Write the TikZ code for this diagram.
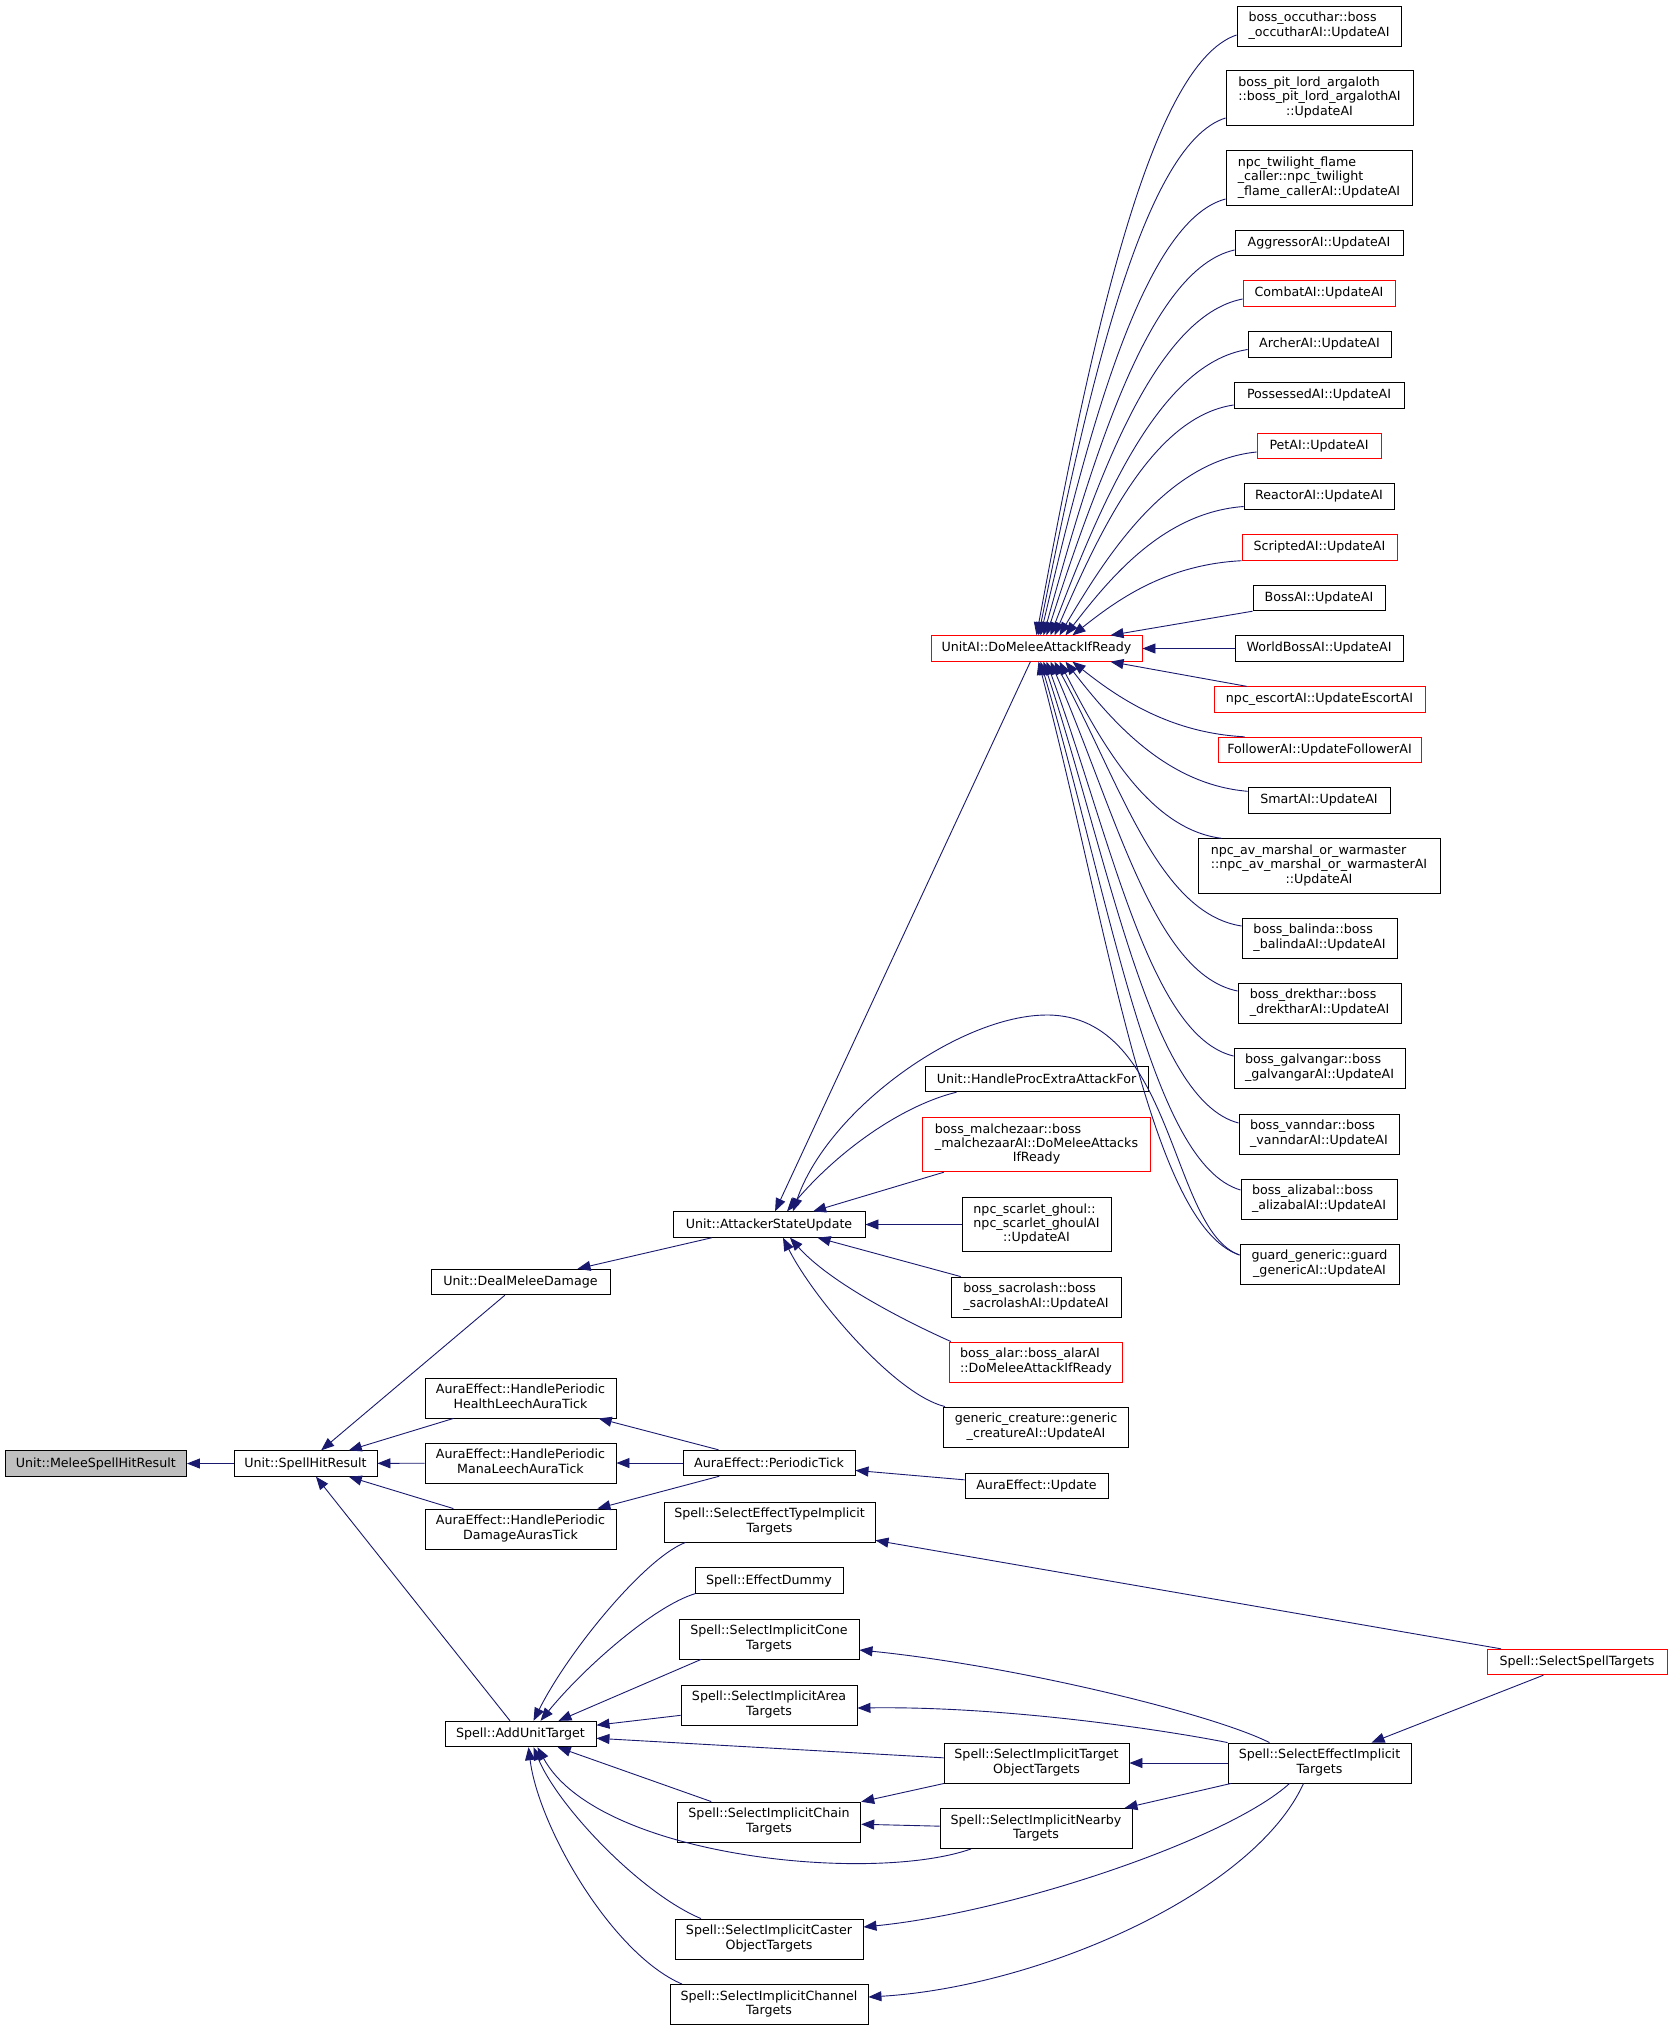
\documentclass[tikz,border=0pt]{standalone}
\usepackage{fontspec}
\setmainfont{DejaVu Sans}
\usetikzlibrary{arrows.meta}
\definecolor{edgeblue}{HTML}{191970}
\def\twol#1#2{\begin{tabular}{@{}l@{}}#1\\\multicolumn{1}{@{}c@{}}{#2}\end{tabular}}
\def\threel#1#2#3{\begin{tabular}{@{}l@{}}#1\\#2\\\multicolumn{1}{@{}c@{}}{#3}\end{tabular}}
\tikzset{
  fnode/.style={draw=black, line width=0.9pt, fill=white, inner xsep=2pt, inner ysep=0pt, font=\fontsize{12.65}{14.3}\selectfont},
  trunc/.style={fnode, draw=red},
  h1/.style={minimum height=25.5pt},
  h2/.style={minimum height=40pt},
  h3/.style={minimum height=54.5pt},
  callarrow/.style={draw=edgeblue, line width=0.9pt, -{Triangle[length=13pt,width=10pt]}},
}

\begin{document}
\begin{tikzpicture}[x=1pt,y=-1pt]
	%%%%% START %%%%%
	\fill[white, use as bounding box] (0,0) rectangle (1672,2031);

	% left part
	\node[fnode, h1, minimum width=181.5pt, fill=black!25] (mel) at (95.75,1463.5) {Unit::MeleeSpellHitResult};
	\node[fnode, h1, minimum width=143pt] (shr) at (305.5,1463.5) {Unit::SpellHitResult};
	\node[fnode, h1, minimum width=179pt] (dmd) at (520.5,1282) {Unit::DealMeleeDamage};
	\node[fnode, h2, minimum width=191pt] (hle) at (520.5,1398) {\twol{AuraEffect::HandlePeriodic}{HealthLeechAuraTick}};
	\node[fnode, h2, minimum width=191pt] (mle) at (520.5,1463) {\twol{AuraEffect::HandlePeriodic}{ManaLeechAuraTick}};
	\node[fnode, h2, minimum width=191pt] (dmg) at (520.5,1529) {\twol{AuraEffect::HandlePeriodic}{DamageAurasTick}};
	\node[fnode, h1, minimum width=151pt] (aut) at (520.5,1734) {Spell::AddUnitTarget};

	% middle column
	\node[fnode, h1, minimum width=192pt] (ast) at (769,1224.5) {Unit::AttackerStateUpdate};
	\node[fnode, h1, minimum width=172pt] (pti) at (769,1463) {AuraEffect::PeriodicTick};
	\node[fnode, h2, minimum width=211pt] (eti) at (769.5,1522) {\twol{Spell::SelectEffectTypeImplicit}{Targets}};
	\node[fnode, h1, minimum width=148pt] (edu) at (769,1580.5) {Spell::EffectDummy};
	\node[fnode, h2, minimum width=180pt] (con) at (769,1639) {\twol{Spell::SelectImplicitCone}{Targets}};
	\node[fnode, h2, minimum width=176pt] (are) at (769,1705) {\twol{Spell::SelectImplicitArea}{Targets}};
	\node[fnode, h2, minimum width=183.5pt] (cha) at (769,1822) {\twol{Spell::SelectImplicitChain}{Targets}};
	\node[fnode, h2, minimum width=188pt] (cas) at (769,1939) {\twol{Spell::SelectImplicitCaster}{ObjectTargets}};
	\node[fnode, h2, minimum width=198pt] (chn) at (769,2004.5) {\twol{Spell::SelectImplicitChannel}{Targets}};

	\node[trunc, h1, minimum width=211pt] (uai) at (1036.5,648.5) {UnitAI::DoMeleeAttackIfReady};
	\node[fnode, h1, minimum width=223pt] (hpe) at (1036.5,1079) {Unit::HandleProcExtraAttackFor};
	\node[trunc, h3, minimum width=228.5pt] (mal) at (1036.5,1144.5) {\threel{boss\_malchezaar::boss}{\_malchezaarAI::DoMeleeAttacks}{IfReady}};
	\node[fnode, h3, minimum width=149pt] (gho) at (1036.5,1224.5) {\threel{npc\_scarlet\_ghoul::}{npc\_scarlet\_ghoulAI}{::UpdateAI}};
	\node[fnode, h2, minimum width=170pt] (sac) at (1036,1297) {\twol{boss\_sacrolash::boss}{\_sacrolashAI::UpdateAI}};
	\node[trunc, h2, minimum width=172.5pt] (ala) at (1036,1362) {\twol{boss\_alar::boss\_alarAI}{::DoMeleeAttackIfReady}};
	\node[fnode, h2, minimum width=185.5pt] (gen) at (1036,1427) {\twol{generic\_creature::generic}{\_creatureAI::UpdateAI}};
	\node[fnode, h1, minimum width=143pt] (upd) at (1036.5,1486) {AuraEffect::Update};
	\node[fnode, h2, minimum width=185pt] (tob) at (1036.5,1763) {\twol{Spell::SelectImplicitTarget}{ObjectTargets}};
	\node[fnode, h2, minimum width=192pt] (nea) at (1036,1828.5) {\twol{Spell::SelectImplicitNearby}{Targets}};

	\node[fnode, h2, minimum width=183pt] (sei) at (1319.5,1763) {\twol{Spell::SelectEffectImplicit}{Targets}};
	\node[trunc, h1, minimum width=180pt] (sst) at (1577,1662) {Spell::SelectSpellTargets};

	% right column
	\node[fnode, h2, minimum width=164pt] (occ) at (1319,26) {\twol{boss\_occuthar::boss}{\_occutharAI::UpdateAI}};
	\node[fnode, h3, minimum width=187pt] (pit) at (1319.5,98) {\threel{boss\_pit\_lord\_argaloth}{::boss\_pit\_lord\_argalothAI}{::UpdateAI}};
	\node[fnode, h3, minimum width=186pt] (twi) at (1319,178) {\threel{npc\_twilight\_flame}{\_caller::npc\_twilight}{\_flame\_callerAI::UpdateAI}};
	\node[fnode, h1, minimum width=168pt] (agg) at (1319,243) {AggressorAI::UpdateAI};
	\node[trunc, h1, minimum width=152pt] (com) at (1319,293.5) {CombatAI::UpdateAI};
	\node[fnode, h1, minimum width=143pt] (arc) at (1319.5,344.5) {ArcherAI::UpdateAI};
	\node[fnode, h1, minimum width=170pt] (pos) at (1319,395.5) {PossessedAI::UpdateAI};
	\node[trunc, h1, minimum width=124pt] (pet) at (1319,446) {PetAI::UpdateAI};
	\node[fnode, h1, minimum width=150pt] (rea) at (1319,496.5) {ReactorAI::UpdateAI};
	\node[trunc, h1, minimum width=155pt] (scr) at (1319.5,547.5) {ScriptedAI::UpdateAI};
	\node[fnode, h1, minimum width=132pt] (bos) at (1319,598) {BossAI::UpdateAI};
	\node[fnode, h1, minimum width=168pt] (wbo) at (1319,648.5) {WorldBossAI::UpdateAI};
	\node[trunc, h1, minimum width=211pt] (esc) at (1319.5,699.5) {npc\_escortAI::UpdateEscortAI};
	\node[trunc, h1, minimum width=203pt] (fol) at (1319.5,750) {FollowerAI::UpdateFollowerAI};
	\node[fnode, h1, minimum width=142pt] (sma) at (1319,800.5) {SmartAI::UpdateAI};
	\node[fnode, h3, minimum width=242pt] (mar) at (1319,866) {\threel{npc\_av\_marshal\_or\_warmaster}{::npc\_av\_marshal\_or\_warmasterAI}{::UpdateAI}};
	\node[fnode, h2, minimum width=155pt] (bal) at (1319.5,938) {\twol{boss\_balinda::boss}{\_balindaAI::UpdateAI}};
	\node[fnode, h2, minimum width=163pt] (dre) at (1319.5,1003) {\twol{boss\_drekthar::boss}{\_drektharAI::UpdateAI}};
	\node[fnode, h2, minimum width=171pt] (gal) at (1319.5,1068) {\twol{boss\_galvangar::boss}{\_galvangarAI::UpdateAI}};
	\node[fnode, h2, minimum width=160pt] (van) at (1319,1134) {\twol{boss\_vanndar::boss}{\_vanndarAI::UpdateAI}};
	\node[fnode, h2, minimum width=156pt] (ali) at (1319,1199) {\twol{boss\_alizabal::boss}{\_alizabalAI::UpdateAI}};
	\node[fnode, h2, minimum width=159pt] (gua) at (1319.5,1264) {\twol{guard\_generic::guard}{\_genericAI::UpdateAI}};

	% calls into SpellHitResult
	\draw[callarrow] (shr) -- (mel);
	\draw[callarrow] (dmd) -- (shr);
	\draw[callarrow] (hle) -- (shr);
	\draw[callarrow] (mle) -- (shr);
	\draw[callarrow] (dmg) -- (shr);
	\draw[callarrow] (aut) -- (shr);
	\draw[callarrow] (ast) -- (dmd);
	\draw[callarrow] (pti) -- (hle);
	\draw[callarrow] (pti) -- (mle);
	\draw[callarrow] (pti) -- (dmg);
	\draw[callarrow] (upd) -- (pti);

	% calls into AttackerStateUpdate
	\draw[callarrow] (uai) -- (ast);
	\draw[callarrow] ([xshift=-80pt]hpe.south) .. controls +(-50,12) and +(55,-65) .. ([xshift=18pt]ast.north);
	\draw[callarrow] (mal) -- (ast);
	\draw[callarrow] (gho) -- (ast);
	\draw[callarrow] (sac) -- (ast);
	\draw[callarrow] ([xshift=-85pt]ala.north) .. controls +(-45,-20) and +(40,45) .. ([xshift=21pt]ast.south);
	\draw[callarrow] ([xshift=-91pt]gen.north) .. controls +(-50,-12) and +(30,60) .. ([xshift=14pt]ast.south);
	\draw[callarrow] ([yshift=9pt]gua.west) .. controls +(-70,-25) and +(128,0) .. (1047,1015) .. controls +(-87,0) and +(35,-102) .. ([xshift=24pt]ast.north);

	% calls into DoMeleeAttackIfReady
	\draw[callarrow] ([yshift=-9pt]occ.west) .. controls +(-90,30) and +(50,-270) .. (uai.north);
	\draw[callarrow] ([yshift=-20pt]pit.west) .. controls +(-84,26) and +(47,-233) .. ([xshift=2pt]uai.north);
	\draw[callarrow] ([yshift=-21pt]twi.west) .. controls +(-83,22) and +(46,-197) .. ([xshift=4pt]uai.north);
	\draw[callarrow] ([yshift=-7pt]agg.west) .. controls +(-86,19) and +(48,-174) .. ([xshift=7pt]uai.north);
	\draw[callarrow] ([yshift=-5.5pt]com.west) .. controls +(-88,17) and +(49,-152) .. ([xshift=10pt]uai.north);
	\draw[callarrow] ([yshift=-5pt]arc.west) .. controls +(-89,14) and +(49,-129) .. ([xshift=14pt]uai.north);
	\draw[callarrow] ([yshift=-9.5pt]pos.west) .. controls +(-81,12) and +(45,-104) .. ([xshift=18pt]uai.north);
	\draw[callarrow] ([yshift=-6pt]pet.west) .. controls +(-89,9) and +(49,-83) .. ([xshift=23pt]uai.north);
	\draw[callarrow] ([yshift=-10pt]rea.west) .. controls +(-80,6) and +(45,-58) .. ([xshift=29pt]uai.north);
	\draw[callarrow] (scr.south west) .. controls +(-77,4) and +(43,-34) .. ([xshift=36pt]uai.north);
	\draw[callarrow] (bos.south west) -- ([xshift=74pt]uai.north);
	\draw[callarrow] (wbo) -- (uai);
	\draw[callarrow] ([xshift=33pt]esc.north west) -- ([xshift=74pt]uai.south);
	\draw[callarrow] ([xshift=27pt]fol.north west) .. controls +(-77,-4) and +(43,34) .. ([xshift=36pt]uai.south);
	\draw[callarrow] ([yshift=-4pt]sma.north west) .. controls +(-82,-7) and +(46,59) .. ([xshift=29pt]uai.south);
	\draw[callarrow] ([xshift=24pt]mar.north west) .. controls +(-73,-9) and +(41,80) .. ([xshift=23pt]uai.south);
	\draw[callarrow] ([yshift=12pt]bal.west) .. controls +(-84,-13) and +(65,119) .. ([xshift=18pt]uai.south);
	\draw[callarrow] ([yshift=12pt]dre.west) .. controls +(-84,-17) and +(65,149) .. ([xshift=14pt]uai.south);
	\draw[callarrow] ([yshift=12pt]gal.west) .. controls +(-84,-20) and +(65,178) .. ([xshift=10pt]uai.south);
	\draw[callarrow] ([yshift=11pt]van.west) .. controls +(-88,-23) and +(68,208) .. ([xshift=7pt]uai.south);
	\draw[callarrow] ([yshift=9pt]ali.west) .. controls +(-90,-26) and +(70,238) .. ([xshift=4pt]uai.south);
	\draw[callarrow] ([yshift=9pt]gua.west) .. controls +(-90,-30) and +(70,267) .. ([xshift=2pt]uai.south);

	% calls into AddUnitTarget
	\draw[callarrow] ([xshift=-84pt]eti.south) .. controls +(-40,15) and +(35,-70) .. ([xshift=13pt]aut.north);
	\draw[callarrow] ([xshift=-74pt]edu.south) .. controls +(-40,12) and +(45,-55) .. ([xshift=20pt]aut.north);
	\draw[callarrow] ([xshift=-68pt]con.south) -- ([xshift=38pt]aut.north);
	\draw[callarrow] (are) -- (aut);
	\draw[callarrow] (tob) -- (aut);
	\draw[callarrow] (cha) -- (aut);
	\draw[callarrow] ([xshift=-65pt]nea.south) .. controls +(-100,35) and +(60,110) .. ([xshift=17pt]aut.south);
	\draw[callarrow] ([xshift=-68pt]cas.north) .. controls +(-60,-25) and +(25,60) .. ([xshift=13pt]aut.south);
	\draw[callarrow] ([xshift=-87pt]chn.north) .. controls +(-70,-30) and +(10,80) .. ([xshift=8pt]aut.south);

	\draw[callarrow] (tob) -- (cha);
	\draw[callarrow] (nea) -- (cha);

	% calls from SelectEffectImplicitTargets
	\draw[callarrow] ([xshift=-50pt]sei.north) .. controls +(-60,-30) and +(150,15) .. ([yshift=-11pt]con.east);
	\draw[callarrow] (sei.north west) .. controls +(-60,-12) and +(150,-2) .. ([yshift=-3pt]are.east);
	\draw[callarrow] (sei) -- (tob);
	\draw[callarrow] (sei) -- (nea);
	\draw[callarrow] ([xshift=-30pt]sei.south) .. controls +(-60,55) and +(150,-15) .. ([yshift=12pt]cas.east);
	\draw[callarrow] ([xshift=-16pt]sei.south) .. controls +(-50,110) and +(170,-10) .. ([yshift=7.5pt]chn.east);

	\draw[callarrow] (sst) -- (eti);
	\draw[callarrow] (sst) -- (sei);
	%%%%% END %%%%%
\end{tikzpicture}
\end{document}
